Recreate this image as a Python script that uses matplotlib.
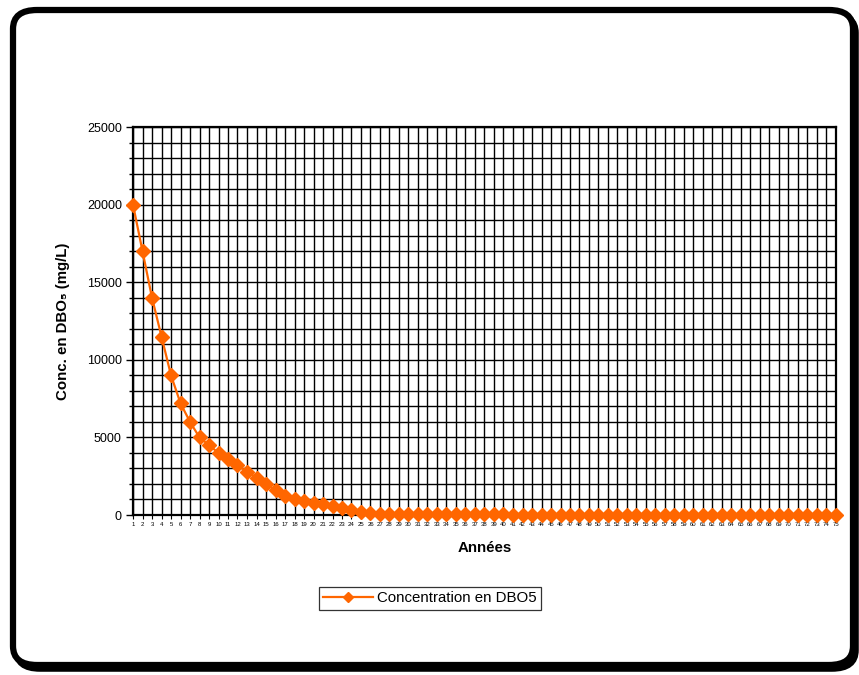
import matplotlib.pyplot as plt
from matplotlib.patches import FancyBboxPatch
from matplotlib.ticker import MultipleLocator

plt.rcParams['font.family'] = ['Liberation Sans', 'DejaVu Sans']

# Concentration en DBO5 par année
annees = list(range(1, 76))
dbo5 = [20000, 17000, 14000, 11500, 9000, 7200, 6000, 5000, 4500, 4000,
        3600, 3200, 2800, 2400, 2000, 1600, 1250, 1000, 900, 800,
        700, 600, 420, 300, 200, 120, 80, 60, 50, 50,
        50, 50, 50, 50, 50, 50, 50, 50, 50, 50,
        30, 30, 30, 30, 30, 30, 30, 30, 30, 30,
        30, 30, 30, 30, 30, 30, 30, 30, 30, 30,
        30, 30, 30, 30, 30, 30, 30, 30, 30, 30,
        30, 30, 30, 30, 30]
orange = '#FF6600'

fig = plt.figure(figsize=(8.59, 6.75), dpi=100)

# rounded frame with drop shadow
W, H = 859.0, 675.0
shadow = FancyBboxPatch((16 / W, 6 / H), 840 / W, 655 / H,
                        boxstyle='round,pad=0,rounding_size=0.028',
                        transform=fig.transFigure, facecolor='black',
                        edgecolor='black', linewidth=4, zorder=0)
frame = FancyBboxPatch((13 / W, 10 / H), 840 / W, 655 / H,
                       boxstyle='round,pad=0,rounding_size=0.028',
                       transform=fig.transFigure, facecolor='white',
                       edgecolor='black', linewidth=4.5, zorder=1)
fig.patches.extend([shadow, frame])

ax = fig.add_axes([133 / W, 1 - 515 / H, 703 / W, 388 / H])
ax.set_zorder(2)
ax.set_facecolor('white')

ax.plot(annees, dbo5, color=orange, linewidth=1.6, marker='D',
        markersize=7, markerfacecolor=orange, markeredgecolor=orange,
        clip_on=False, zorder=5, label='Concentration en DBO5')

ax.set_xlim(1, 75)
ax.set_ylim(0, 25000)
ax.set_xticks(annees)
ax.set_xticklabels([str(a) for a in annees], fontsize=4.3)
ax.yaxis.set_major_locator(MultipleLocator(5000))
ax.yaxis.set_minor_locator(MultipleLocator(1000))
ax.tick_params(axis='y', which='major', labelsize=9, length=5, width=1, pad=3)
ax.tick_params(axis='y', which='minor', length=3, width=1)
ax.tick_params(axis='x', length=3, width=0.8, pad=2)

ax.grid(True, which='both', axis='y', color='black', linewidth=1.0)
ax.grid(True, which='major', axis='x', color='black', linewidth=1.0)
ax.set_axisbelow(True)
for s in ax.spines.values():
    s.set_linewidth(1.6)
    s.set_color('black')

ax.set_xlabel('Années', fontsize=10.8, fontweight='bold', labelpad=10)
ax.set_ylabel('Conc. en DBO₅ (mg/L)', fontsize=10.8, fontweight='bold', labelpad=12)

leg = ax.legend(loc='center', bbox_to_anchor=(430 / W, 1 - 598 / H),
                bbox_transform=fig.transFigure, fontsize=10.8, frameon=True,
                fancybox=False, edgecolor='black', handlelength=3.3,
                borderpad=0.3, handletextpad=0.3, markerscale=0.8)
leg.get_frame().set_linewidth(0.9)

fig.savefig('out.png', dpi=100)
